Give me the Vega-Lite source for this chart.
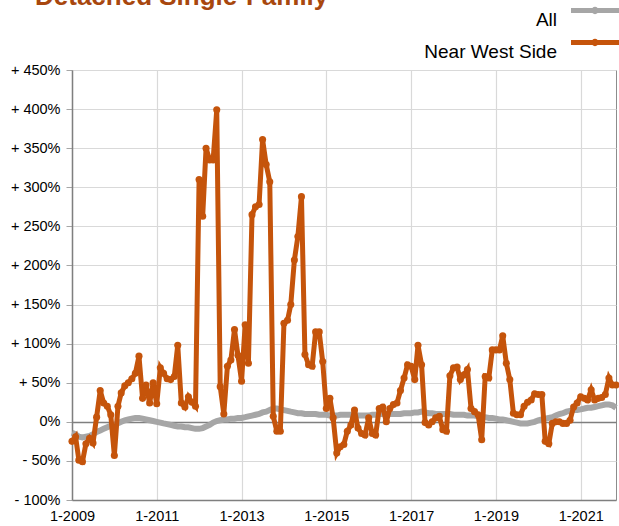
{
  "$schema": "https://vega.github.io/schema/vega-lite/v6.json",
  "width": 544,
  "height": 430,
  "autosize": {"type": "none"},
  "padding": {"left": 72, "top": 70, "right": 3, "bottom": 26},
  "config": {
    "font": "Liberation Sans",
    "view": {"stroke": "#8c8c8c", "strokeWidth": 1},
    "axis": {"labelFont": "Liberation Sans", "labelFontSize": 14.5, "labelColor": "#000000", "gridColor": "#d9d9d9", "gridWidth": 1.2, "domainColor": "#7f7f7f", "domainWidth": 1.5, "tickColor": "#a6a6a6", "title": null}
  },
  "title": {"text": "Detached Single-Family", "anchor": "start", "frame": "group", "orient": "bottom", "fontSize": 26, "fontWeight": "bold", "color": "#a8470e", "font": "Liberation Sans", "offset": -518, "dx": -37, "baseline": "alphabetic"},
  "data": {"values": [
    {"d":"2009-01-01T00:00","All":-14,"Near West Side":-25},{"d":"2009-02-01T00:00","All":-16,"Near West Side":-19},{"d":"2009-03-01T00:00","All":-19,"Near West Side":-49},{"d":"2009-04-01T00:00","All":-20,"Near West Side":-51},{"d":"2009-05-01T00:00","All":-19,"Near West Side":-28},{"d":"2009-06-01T00:00","All":-18,"Near West Side":-21},{"d":"2009-07-01T00:00","All":-16,"Near West Side":-27},{"d":"2009-08-01T00:00","All":-13,"Near West Side":6},{"d":"2009-09-01T00:00","All":-11,"Near West Side":40},{"d":"2009-10-01T00:00","All":-9,"Near West Side":24},{"d":"2009-11-01T00:00","All":-7,"Near West Side":20},{"d":"2009-12-01T00:00","All":-5,"Near West Side":9},
    {"d":"2010-01-01T00:00","All":-4,"Near West Side":-43},{"d":"2010-02-01T00:00","All":-2,"Near West Side":20},{"d":"2010-03-01T00:00","All":0,"Near West Side":37},{"d":"2010-04-01T00:00","All":2,"Near West Side":46},{"d":"2010-05-01T00:00","All":3,"Near West Side":50},{"d":"2010-06-01T00:00","All":4,"Near West Side":55},{"d":"2010-07-01T00:00","All":5,"Near West Side":62},{"d":"2010-08-01T00:00","All":5,"Near West Side":84},{"d":"2010-09-01T00:00","All":4,"Near West Side":30},{"d":"2010-10-01T00:00","All":3,"Near West Side":47},{"d":"2010-11-01T00:00","All":2,"Near West Side":24},{"d":"2010-12-01T00:00","All":1,"Near West Side":50},
    {"d":"2011-01-01T00:00","All":0,"Near West Side":23},{"d":"2011-02-01T00:00","All":-1,"Near West Side":69},{"d":"2011-03-01T00:00","All":-2,"Near West Side":62},{"d":"2011-04-01T00:00","All":-3,"Near West Side":55},{"d":"2011-05-01T00:00","All":-4,"Near West Side":54},{"d":"2011-06-01T00:00","All":-5,"Near West Side":58},{"d":"2011-07-01T00:00","All":-6,"Near West Side":98},{"d":"2011-08-01T00:00","All":-6,"Near West Side":24},{"d":"2011-09-01T00:00","All":-7,"Near West Side":19},{"d":"2011-10-01T00:00","All":-7,"Near West Side":32},{"d":"2011-11-01T00:00","All":-8,"Near West Side":25},{"d":"2011-12-01T00:00","All":-9,"Near West Side":20},
    {"d":"2012-01-01T00:00","All":-9,"Near West Side":310},{"d":"2012-02-01T00:00","All":-8,"Near West Side":263},{"d":"2012-03-01T00:00","All":-6,"Near West Side":350},{"d":"2012-04-01T00:00","All":-4,"Near West Side":335},{"d":"2012-05-01T00:00","All":-1,"Near West Side":335},{"d":"2012-06-01T00:00","All":1,"Near West Side":399},{"d":"2012-07-01T00:00","All":2,"Near West Side":45},{"d":"2012-08-01T00:00","All":3,"Near West Side":10},{"d":"2012-09-01T00:00","All":3,"Near West Side":71},{"d":"2012-10-01T00:00","All":4,"Near West Side":79},{"d":"2012-11-01T00:00","All":4,"Near West Side":118},{"d":"2012-12-01T00:00","All":5,"Near West Side":85},
    {"d":"2013-01-01T00:00","All":5,"Near West Side":52},{"d":"2013-02-01T00:00","All":6,"Near West Side":124},{"d":"2013-03-01T00:00","All":7,"Near West Side":75},{"d":"2013-04-01T00:00","All":8,"Near West Side":265},{"d":"2013-05-01T00:00","All":9,"Near West Side":275},{"d":"2013-06-01T00:00","All":10,"Near West Side":278},{"d":"2013-07-01T00:00","All":12,"Near West Side":361},{"d":"2013-08-01T00:00","All":13,"Near West Side":329},{"d":"2013-09-01T00:00","All":15,"Near West Side":307},{"d":"2013-10-01T00:00","All":17,"Near West Side":7},{"d":"2013-11-01T00:00","All":17,"Near West Side":-12},{"d":"2013-12-01T00:00","All":16,"Near West Side":-12},
    {"d":"2014-01-01T00:00","All":15,"Near West Side":126},{"d":"2014-02-01T00:00","All":14,"Near West Side":130},{"d":"2014-03-01T00:00","All":13,"Near West Side":150},{"d":"2014-04-01T00:00","All":12,"Near West Side":207},{"d":"2014-05-01T00:00","All":11,"Near West Side":237},{"d":"2014-06-01T00:00","All":11,"Near West Side":288},{"d":"2014-07-01T00:00","All":10,"Near West Side":86},{"d":"2014-08-01T00:00","All":10,"Near West Side":73},{"d":"2014-09-01T00:00","All":10,"Near West Side":71},{"d":"2014-10-01T00:00","All":10,"Near West Side":115},{"d":"2014-11-01T00:00","All":9,"Near West Side":115},{"d":"2014-12-01T00:00","All":9,"Near West Side":77},
    {"d":"2015-01-01T00:00","All":9,"Near West Side":17},{"d":"2015-02-01T00:00","All":8,"Near West Side":30},{"d":"2015-03-01T00:00","All":8,"Near West Side":5},{"d":"2015-04-01T00:00","All":8,"Near West Side":-40},{"d":"2015-05-01T00:00","All":9,"Near West Side":-32},{"d":"2015-06-01T00:00","All":9,"Near West Side":-29},{"d":"2015-07-01T00:00","All":9,"Near West Side":-12},{"d":"2015-08-01T00:00","All":9,"Near West Side":-4},{"d":"2015-09-01T00:00","All":8,"Near West Side":15},{"d":"2015-10-01T00:00","All":8,"Near West Side":-8},{"d":"2015-11-01T00:00","All":8,"Near West Side":-15},{"d":"2015-12-01T00:00","All":8,"Near West Side":-17},
    {"d":"2016-01-01T00:00","All":8,"Near West Side":5},{"d":"2016-02-01T00:00","All":9,"Near West Side":-15},{"d":"2016-03-01T00:00","All":9,"Near West Side":-17},{"d":"2016-04-01T00:00","All":10,"Near West Side":17},{"d":"2016-05-01T00:00","All":10,"Near West Side":19},{"d":"2016-06-01T00:00","All":10,"Near West Side":0},{"d":"2016-07-01T00:00","All":10,"Near West Side":17},{"d":"2016-08-01T00:00","All":10,"Near West Side":22},{"d":"2016-09-01T00:00","All":10,"Near West Side":24},{"d":"2016-10-01T00:00","All":10,"Near West Side":40},{"d":"2016-11-01T00:00","All":11,"Near West Side":56},{"d":"2016-12-01T00:00","All":11,"Near West Side":73},
    {"d":"2017-01-01T00:00","All":11,"Near West Side":71},{"d":"2017-02-01T00:00","All":12,"Near West Side":54},{"d":"2017-03-01T00:00","All":12,"Near West Side":98},{"d":"2017-04-01T00:00","All":13,"Near West Side":73},{"d":"2017-05-01T00:00","All":12,"Near West Side":-1},{"d":"2017-06-01T00:00","All":11,"Near West Side":-4},{"d":"2017-07-01T00:00","All":11,"Near West Side":0},{"d":"2017-08-01T00:00","All":10,"Near West Side":5},{"d":"2017-09-01T00:00","All":10,"Near West Side":7},{"d":"2017-10-01T00:00","All":10,"Near West Side":-10},{"d":"2017-11-01T00:00","All":10,"Near West Side":-12},{"d":"2017-12-01T00:00","All":10,"Near West Side":59},
    {"d":"2018-01-01T00:00","All":9,"Near West Side":69},{"d":"2018-02-01T00:00","All":9,"Near West Side":70},{"d":"2018-03-01T00:00","All":9,"Near West Side":54},{"d":"2018-04-01T00:00","All":9,"Near West Side":60},{"d":"2018-05-01T00:00","All":8,"Near West Side":67},{"d":"2018-06-01T00:00","All":8,"Near West Side":17},{"d":"2018-07-01T00:00","All":8,"Near West Side":13},{"d":"2018-08-01T00:00","All":7,"Near West Side":9},{"d":"2018-09-01T00:00","All":6,"Near West Side":-23},{"d":"2018-10-01T00:00","All":6,"Near West Side":58},{"d":"2018-11-01T00:00","All":5,"Near West Side":56},{"d":"2018-12-01T00:00","All":5,"Near West Side":92},
    {"d":"2019-01-01T00:00","All":4,"Near West Side":92},{"d":"2019-02-01T00:00","All":3,"Near West Side":92},{"d":"2019-03-01T00:00","All":3,"Near West Side":110},{"d":"2019-04-01T00:00","All":2,"Near West Side":75},{"d":"2019-05-01T00:00","All":1,"Near West Side":54},{"d":"2019-06-01T00:00","All":0,"Near West Side":11},{"d":"2019-07-01T00:00","All":-1,"Near West Side":9},{"d":"2019-08-01T00:00","All":-2,"Near West Side":9},{"d":"2019-09-01T00:00","All":-2,"Near West Side":20},{"d":"2019-10-01T00:00","All":-2,"Near West Side":25},{"d":"2019-11-01T00:00","All":-1,"Near West Side":28},{"d":"2019-12-01T00:00","All":0,"Near West Side":36},
    {"d":"2020-01-01T00:00","All":2,"Near West Side":35},{"d":"2020-02-01T00:00","All":3,"Near West Side":35},{"d":"2020-03-01T00:00","All":4,"Near West Side":-25},{"d":"2020-04-01T00:00","All":5,"Near West Side":-28},{"d":"2020-05-01T00:00","All":6,"Near West Side":-2},{"d":"2020-06-01T00:00","All":8,"Near West Side":0},{"d":"2020-07-01T00:00","All":10,"Near West Side":0},{"d":"2020-08-01T00:00","All":11,"Near West Side":-2},{"d":"2020-09-01T00:00","All":13,"Near West Side":-2},{"d":"2020-10-01T00:00","All":14,"Near West Side":2},{"d":"2020-11-01T00:00","All":15,"Near West Side":19},{"d":"2020-12-01T00:00","All":15,"Near West Side":24},
    {"d":"2021-01-01T00:00","All":16,"Near West Side":32},{"d":"2021-02-01T00:00","All":17,"Near West Side":30},{"d":"2021-03-01T00:00","All":18,"Near West Side":28},{"d":"2021-04-01T00:00","All":18,"Near West Side":41},{"d":"2021-05-01T00:00","All":19,"Near West Side":28},{"d":"2021-06-01T00:00","All":20,"Near West Side":30},{"d":"2021-07-01T00:00","All":21,"Near West Side":31},{"d":"2021-08-01T00:00","All":22,"Near West Side":35},{"d":"2021-09-01T00:00","All":22,"Near West Side":56},{"d":"2021-10-01T00:00","All":21,"Near West Side":47},{"d":"2021-11-01T00:00","All":18,"Near West Side":47}
  ]},
  "transform": [{"fold": ["All", "Near West Side"], "as": ["series", "value"]}],
  "encoding": {
    "x": {"field": "d", "type": "temporal", "scale": {"domain": [{"year": 2009, "month": 1, "date": 1}, {"year": 2021, "month": 11, "date": 1}]},
          "axis": {"values": [{"year": 2009, "month": 1, "date": 1}, {"year": 2011, "month": 1, "date": 1}, {"year": 2013, "month": 1, "date": 1}, {"year": 2015, "month": 1, "date": 1}, {"year": 2017, "month": 1, "date": 1}, {"year": 2019, "month": 1, "date": 1}, {"year": 2021, "month": 1, "date": 1}],
                   "format": "%-m-%Y", "tickSize": 0, "labelPadding": 9, "labelFlush": false}},
    "y": {"field": "value", "type": "quantitative", "scale": {"domain": [-100, 450], "nice": false, "zero": false},
          "axis": {"values": [-100, -50, 0, 50, 100, 150, 200, 250, 300, 350, 400, 450], "tickCount": 12, "labelExpr": "datum.value > 0 ? '+ ' + datum.value + '%' : (datum.value < 0 ? '- ' + abs(datum.value) + '%' : '0%')", "tickSize": 6, "labelPadding": 6, "labelOverlap": false,
                   "gridColor": {"condition": {"test": "datum.value === 0", "value": "#7f7f7f"}, "value": "#d9d9d9"},
                   "gridWidth": {"condition": {"test": "datum.value === 0", "value": 1.6}, "value": 1.2}}},
    "color": {"field": "series", "type": "nominal", "scale": {"domain": ["All", "Near West Side"], "range": ["#a6a6a6", "#c5540b"]},
              "legend": {"orient": "none", "legendX": 510.5, "legendY": -72, "title": null, "symbolType": "M-2.4,0H2.4M0.12,0A0.12,0.12 0 1,0 -0.12,0A0.12,0.12 0 1,0 0.12,0", "symbolSize": 400, "symbolStrokeWidth": 5, "labelFontSize": 19, "labelAlign": "right", "labelBaseline": "top", "labelOffset": -50.5, "rowPadding": -2, "labelColor": "#000000", "labelLimit": 300}}
  },
  "layer": [
    {
      "transform": [{"filter": "datum.series == 'All'"}],
      "mark": {"type": "line", "strokeWidth": 6, "clip": false}
    },
    {
      "transform": [{"filter": "datum.series == 'Near West Side'"}],
      "mark": {"type": "line", "strokeWidth": 5, "clip": false, "point": {"filled": true, "size": 50}}
    }
  ]
}
